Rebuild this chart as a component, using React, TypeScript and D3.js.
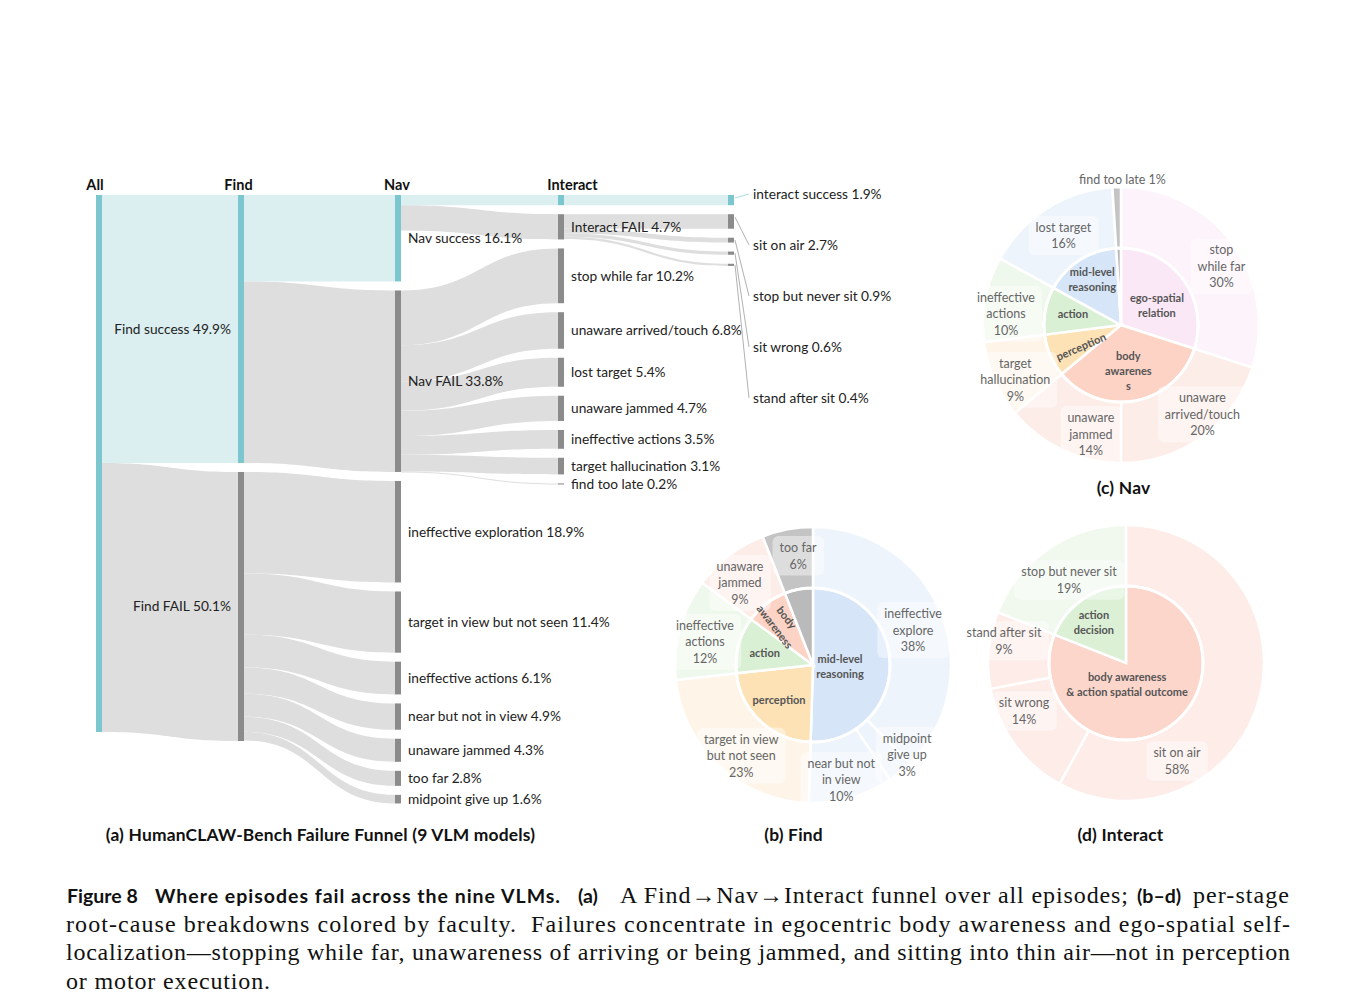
import React, { useEffect, useRef } from "react";
import * as d3 from "d3";

// ---------------- DATA ----------------
const stageHeaders = ["All", "Find", "Nav", "Interact"];

const findOutcomes = ["Find success", "Find FAIL"];
const findOutcomeValues = [49.9, 50.1];

const navOutcomes = ["Nav success", "Nav FAIL"];
const navOutcomeValues = [16.1, 33.8];

const findFailCauses = [
  "ineffective exploration",
  "target in view but not seen",
  "ineffective actions",
  "near but not in view",
  "unaware jammed",
  "too far",
  "midpoint give up",
];
const findFailValues = [18.9, 11.4, 6.1, 4.9, 4.3, 2.8, 1.6];

const interactOutcomes = ["interact success", "Interact FAIL"];
const interactOutcomeValues = [1.9, 4.7];

const navFailCauses = [
  "stop while far",
  "unaware arrived/touch",
  "lost target",
  "unaware jammed",
  "ineffective actions",
  "target hallucination",
  "find too late",
];
const navFailValues = [10.2, 6.8, 5.4, 4.7, 3.5, 3.1, 0.2];

const interactFailCauses = ["sit on air", "stop but never sit", "sit wrong", "stand after sit"];
const interactFailValues = [2.7, 0.9, 0.6, 0.4];

// Pie (b) Find
const findPieNames = [
  "ineffective\nexplore",
  "midpoint\ngive up",
  "near but not\nin view",
  "target in view\nbut not seen",
  "ineffective\nactions",
  "unaware\njammed",
  "too far",
];
const findPieValues = [38, 3, 10, 23, 12, 9, 6];
const findPieFaculty = ["mid", "mid", "mid", "perception", "action", "body", "other"];
const findFaculties = ["mid", "perception", "action", "body", "other"];
const findFacultyLabels = ["mid-level\nreasoning", "perception", "action", "body\nawareness", ""];

// Pie (c) Nav
const navPieNames = [
  "stop\nwhile far",
  "unaware\narrived/touch",
  "unaware\njammed",
  "target\nhallucination",
  "ineffective\nactions",
  "lost target",
  "find too late",
];
const navPieValues = [30, 20, 14, 9, 10, 16, 1];
const navPieFaculty = ["ego", "body", "body", "perception", "action", "mid", "other"];
const navFaculties = ["ego", "body", "perception", "action", "mid", "other"];
const navFacultyLabels = ["ego-spatial\nrelation", "body\nawarenes\ns", "perception", "action", "mid-level\nreasoning", ""];

// Pie (d) Interact
const interactPieNames = ["sit on air", "sit wrong", "stand after sit", "stop but never sit"];
const interactPieValues = [58, 14, 9, 19];
const interactPieFaculty = ["outcome", "outcome", "outcome", "decision"];
const interactFaculties = ["outcome", "decision"];
const interactFacultyLabels = ["body awareness\n& action spatial outcome", "action\ndecision"];

const panelTitles = [
  "(a) HumanCLAW-Bench Failure Funnel (9 VLM models)",
  "(b) Find",
  "(c) Nav",
  "(d) Interact",
];

const captionLine1 = [
  { t: "Figure 8", b: true },
  { t: "Where episodes fail across the nine VLMs.", b: true },
  { t: "(a)", b: true },
  { t: "A Find\u2192Nav\u2192Interact funnel over all episodes;", b: false },
  { t: "(b\u2013d)", b: true },
  { t: "per-stage", b: false },
];
const captionRest = [
  "root-cause breakdowns colored by faculty.  Failures concentrate in egocentric body awareness and ego-spatial self-",
  "localization\u2014stopping while far, unawareness of arriving or being jammed, and sitting into thin air\u2014not in perception",
  "or motor execution.",
];

// ---------------- STYLE / LAYOUT ----------------
const W = 1358;
const H = 1008;
const SANS = "Lato, 'Open Sans', sans-serif";
const SERIF = "'Liberation Serif', 'DejaVu Serif', serif";
const TEAL = "#7cc7cf";
const TEAL_LINK = "#dbeff0";
const GRAY = "#8b8b8b";
const GRAY_LINK = "#dedede";

const INNER: Record<string, string> = {
  mid: "#d6e6f8",
  ego: "#fbe8f7",
  body: "#fdd3c6",
  perception: "#fde2b6",
  action: "#daf0d4",
  other: "#bababa",
  decision: "#dbf0d5",
  outcome: "#fdd6cb",
};
const OUTER: Record<string, string> = {
  mid: "#eef4fb",
  ego: "#fdf3fb",
  body: "#fdede8",
  perception: "#fef4e8",
  action: "#eff8ec",
  other: "#c4c4c4",
  decision: "#f1f9ef",
  outcome: "#fdece8",
};

type Sel = d3.Selection<any, any, any, any>;

function bandPath(x0: number, x1: number, y0: number, y1: number, w: number) {
  const xm = (x0 + x1) / 2;
  const p = d3.path();
  p.moveTo(x0, y0);
  p.bezierCurveTo(xm, y0, xm, y1, x1, y1);
  p.lineTo(x1, y1 + w);
  p.bezierCurveTo(xm, y1 + w, xm, y0 + w, x0, y0 + w);
  p.closePath();
  return p.toString();
}

function drawSankey(svg: Sel) {
  const colX = [96, 238, 395, 558, 728];
  const nodeW = 6;
  const top = 195;
  const gap = 9;
  const vy = d3.scaleLinear().domain([0, 100]).range([0, 537]);
  const FS = 13.7;

  type N = {
    name: string; col: number; value: number; ok: boolean;
    label: "left" | "right" | "none" | "leader"; y0: number; y1: number; outOff: number; inOff: number;
  };
  const nodes: N[] = [];
  const mk = (name: string, col: number, value: number, ok: boolean, label: N["label"]) => {
    const n: N = { name, col, value, ok, label, y0: 0, y1: 0, outOff: 0, inOff: 0 };
    nodes.push(n);
    return n;
  };
  const all = mk("All", 0, d3.sum(findOutcomeValues), true, "none");
  const findN = findOutcomes.map((n, i) => mk(n, 1, findOutcomeValues[i], i === 0, "left"));
  const navN = navOutcomes.map((n, i) => mk(n, 2, navOutcomeValues[i], i === 0, "right"));
  const ffN = findFailCauses.map((n, i) => mk(n, 2, findFailValues[i], false, "right"));
  const intN = interactOutcomes.map((n, i) => mk(n, 3, interactOutcomeValues[i], i === 0, i === 0 ? "none" : "right"));
  const nfN = navFailCauses.map((n, i) => mk(n, 3, navFailValues[i], false, "right"));
  const intEnd = mk(interactOutcomes[0], 4, interactOutcomeValues[0], true, "leader");
  const ifN = interactFailCauses.map((n, i) => mk(n, 4, interactFailValues[i], false, "leader"));

  d3.range(5).forEach((c) => {
    let cur = top;
    nodes.filter((n) => n.col === c).forEach((n) => {
      n.y0 = cur;
      n.y1 = cur + vy(n.value);
      cur = n.y1 + gap;
    });
  });

  const links: { s: N; t: N; v: number }[] = [];
  const L = (s: N, t: N) => links.push({ s, t, v: t.value });
  findN.forEach((n) => L(all, n));
  navN.forEach((n) => L(findN[0], n));
  ffN.forEach((n) => L(findN[1], n));
  intN.forEach((n) => L(navN[0], n));
  nfN.forEach((n) => L(navN[1], n));
  L(intN[0], intEnd);
  ifN.forEach((n) => L(intN[1], n));

  const g = svg.append("g");
  links.forEach((l) => {
    const w = vy(l.v);
    const sy = l.s.y0 + l.s.outOff;
    l.s.outOff += w;
    const ty = l.t.y0 + l.t.inOff;
    l.t.inOff += w;
    g.append("path")
      .attr("d", bandPath(colX[l.s.col] + nodeW, colX[l.t.col], sy, ty, w))
      .attr("fill", l.t.ok ? TEAL_LINK : GRAY_LINK);
  });

  nodes.forEach((n) => {
    g.append("rect")
      .attr("x", colX[n.col])
      .attr("y", n.y0)
      .attr("width", nodeW)
      .attr("height", Math.max(1, n.y1 - n.y0))
      .attr("fill", n.ok ? TEAL : GRAY);
  });

  const fmt = (v: number) => `${v.toFixed(1)}%`;
  let leaderIdx = 0;
  nodes.forEach((n) => {
    const cy = (n.y0 + n.y1) / 2;
    const txt = `${n.name} ${fmt(n.value)}`;
    if (n.label === "left" || n.label === "right") {
      g.append("text")
        .attr("x", n.label === "left" ? colX[n.col] - 7 : colX[n.col] + nodeW + 7)
        .attr("y", cy)
        .attr("dy", "0.35em")
        .attr("text-anchor", n.label === "left" ? "end" : "start")
        .attr("font-family", SANS)
        .attr("font-size", FS)
        .attr("fill", "#222")
        .text(txt);
    } else if (n.label === "leader") {
      const ly = 194 + leaderIdx * 51;
      leaderIdx++;
      g.append("line")
        .attr("x1", colX[n.col] + nodeW + 1)
        .attr("y1", n.y0 + Math.min(3, (n.y1 - n.y0) / 2))
        .attr("x2", 749)
        .attr("y2", ly)
        .attr("stroke", n.ok ? "#9fd6dc" : "#a8a8a8")
        .attr("stroke-width", 0.9);
      g.append("text")
        .attr("x", 753)
        .attr("y", ly)
        .attr("dy", "0.35em")
        .attr("font-family", SANS)
        .attr("font-size", FS)
        .attr("fill", "#222")
        .text(txt);
    }
  });

  const headerDx = [-4, -2.5, -1, 11.5];
  stageHeaders.forEach((h, i) => {
    g.append("text")
      .attr("x", colX[i] + nodeW / 2 + headerDx[i])
      .attr("y", 190)
      .attr("text-anchor", "middle")
      .attr("font-family", SANS)
      .attr("font-weight", 700)
      .attr("font-size", 14.5)
      .attr("fill", "#111")
      .text(h);
  });
}

type PieCfg = {
  cx: number; cy: number;
  names: string[]; values: number[]; fac: string[];
  facKeys: string[]; facLabels: string[];
  outerNudge: number[][]; innerNudge: number[][]; innerRotate: boolean[]; outside: boolean[];
};

function drawPie(svg: Sel, cfg: PieCfg) {
  const { cx, cy, names, values, fac, facKeys, facLabels, outerNudge, innerNudge, innerRotate, outside } = cfg;
  const rIn = 77;
  const rOut = 138;
  const g = svg.append("g");
  const pie = d3.pie<number>().sort(null).value((d) => d);
  const arcs = pie(values);
  const facVals = facKeys.map((k) => d3.sum(values.filter((_, i) => fac[i] === k)));
  const facArcs = pie(facVals);
  const outerArc = d3.arc<d3.PieArcDatum<number>>().innerRadius(rIn).outerRadius(rOut);
  const innerArc = d3.arc<d3.PieArcDatum<number>>().innerRadius(0).outerRadius(rIn);
  const pg = g.append("g").attr("transform", `translate(${cx},${cy})`);
  arcs.forEach((a, i) => {
    pg.append("path").attr("d", outerArc(a) as string).attr("fill", OUTER[fac[i]])
      .attr("stroke", "#fff").attr("stroke-width", 2.5);
  });
  facArcs.forEach((a, i) => {
    pg.append("path").attr("d", innerArc(a) as string).attr("fill", INNER[facKeys[i]])
      .attr("stroke", "#fff").attr("stroke-width", 2.5);
  });
  pg.append("circle").attr("r", rIn).attr("fill", "none").attr("stroke", "#fff").attr("stroke-width", 3);

  // outer labels
  const lh = 16.5;
  arcs.forEach((a, i) => {
    const mid = (a.startAngle + a.endAngle) / 2;
    const r = outside[i] ? 145 : 113;
    const x = cx + r * Math.sin(mid) + outerNudge[i][0];
    const y = cy - r * Math.cos(mid) + outerNudge[i][1];
    const pct = `${values[i]}%`;
    const lines = outside[i] ? [`${names[i].replace("\n", " ")} ${pct}`] : [...names[i].split("\n"), pct];
    const lg = g.append("g");
    const t = lg.append("text")
      .attr("font-family", SANS)
      .attr("font-size", 12.5)
      .attr("fill", "#666")
      .attr("text-anchor", "middle");
    lines.forEach((ln, k) => {
      t.append("tspan").attr("x", x).attr("y", y + (k - (lines.length - 1) / 2) * lh).attr("dy", "0.35em").text(ln);
    });
    if (!outside[i]) {
      const bb = (t.node() as SVGTextElement).getBBox();
      lg.insert("rect", "text")
        .attr("x", bb.x - 7).attr("y", bb.y - 4)
        .attr("width", bb.width + 14).attr("height", bb.height + 8)
        .attr("rx", 6).attr("fill", "#fff").attr("opacity", 0.42);
    }
  });

  // inner labels
  facArcs.forEach((a, i) => {
    if (!facLabels[i]) return;
    const mid = (a.startAngle + a.endAngle) / 2;
    const r = 50;
    const x = cx + r * Math.sin(mid) + innerNudge[i][0];
    const y = cy - r * Math.cos(mid) + innerNudge[i][1];
    const lines = facLabels[i].split("\n");
    const t = g.append("text")
      .attr("font-family", SANS)
      .attr("font-size", 11)
      .attr("font-weight", 700)
      .attr("fill", "#555")
      .attr("text-anchor", "middle");
    if (innerRotate[i]) t.attr("transform", `rotate(${(mid * 180) / Math.PI - 270},${x},${y})`);
    lines.forEach((ln, k) => {
      t.append("tspan").attr("x", x).attr("y", y + (k - (lines.length - 1) / 2) * 15).attr("dy", "0.35em").text(ln);
    });
  });
}

function drawTitles(svg: Sel) {
  const pos = [
    [320.5, 841],
    [793.5, 841],
    [1123.5, 494],
    [1120.5, 841],
  ];
  panelTitles.forEach((t, i) => {
    svg.append("text")
      .attr("x", pos[i][0]).attr("y", pos[i][1])
      .attr("text-anchor", "middle")
      .attr("font-family", SANS).attr("font-weight", 700).attr("font-size", 17.4)
      .attr("letter-spacing", 0.2)
      .attr("fill", "#111").text(t);
  });
}

function drawCaption(svg: Sel) {
  const segX = [67, 155, 578, 620, 1137, 1193];
  const segLen = [0, 405, 0, 508, 0, 96];
  captionLine1.forEach((s, i) => {
    const t = svg.append("text")
      .attr("x", segX[i]).attr("y", 903)
      .attr("font-family", s.b ? SANS : SERIF)
      .attr("font-weight", s.b ? 700 : 400)
      .attr("font-size", s.b ? 19.5 : 24)
      .attr("fill", "#111")
      .text(s.t);
    if (segLen[i] > 0) t.attr("textLength", segLen[i]).attr("lengthAdjust", "spacing");
  });
  const ys = [932, 960, 989];
  const lens = [1224, 1224, 204];
  captionRest.forEach((s, i) => {
    svg.append("text")
      .attr("x", 66).attr("y", ys[i])
      .attr("font-family", SERIF).attr("font-size", 24).attr("fill", "#111")
      .attr("textLength", lens[i]).attr("lengthAdjust", "spacing")
      .style("white-space", "pre")
      .text(s);
  });
}

export default function App() {
  const ref = useRef<SVGSVGElement>(null);
  useEffect(() => {
    const svg = d3.select(ref.current);
    svg.selectAll("*").remove();
    svg.append("rect").attr("width", W).attr("height", H).attr("fill", "#fff");
    drawSankey(svg);
    drawPie(svg, {
      cx: 813, cy: 665,
      names: findPieNames, values: findPieValues, fac: findPieFaculty,
      facKeys: findFaculties, facLabels: findFacultyLabels,
      outerNudge: [[-4.5, 8], [22.6, 2.4], [-3, 6.4], [5, 8], [1, 6.4], [-4.4, 7.8], [6, 2]],
      innerNudge: [[-23, 1], [0, -2], [0, 1], [-2, -3], [0, 0]],
      innerRotate: [false, false, false, true, false],
      outside: [false, false, false, false, false, false, false],
    });
    drawPie(svg, {
      cx: 1121, cy: 325,
      names: navPieNames, values: navPieValues, fac: navPieFaculty,
      facKeys: navFaculties, facLabels: navFacultyLabels,
      outerNudge: [[9, 8], [15, -2], [18, 7], [-2, 10], [-4, 10], [3, 6], [6, 0]],
      innerNudge: [[-4.5, 10], [-2, -3], [6, 2], [1, -1.6], [-2, -3], [0, 0]],
      innerRotate: [false, false, true, false, false, false],
      outside: [false, false, false, false, false, false, true],
    });
    drawPie(svg, {
      cx: 1126, cy: 663,
      names: interactPieNames, values: interactPieValues, fac: interactPieFaculty,
      facKeys: interactFaculties, facLabels: interactFacultyLabels,
      outerNudge: [[-58.5, 70], [-10.6, -18.4], [-9.5, -11.4], [6.5, 10.5]],
      innerNudge: [[-27, -20], [-4, 1.4]],
      innerRotate: [false, false],
      outside: [false, false, false, false],
    });
    drawTitles(svg);
    drawCaption(svg);
  }, []);
  return (
    <svg
      ref={ref}
      width={W}
      height={H}
      style={{ position: "absolute", left: 0, top: 0, display: "block" }}
    />
  );
}
